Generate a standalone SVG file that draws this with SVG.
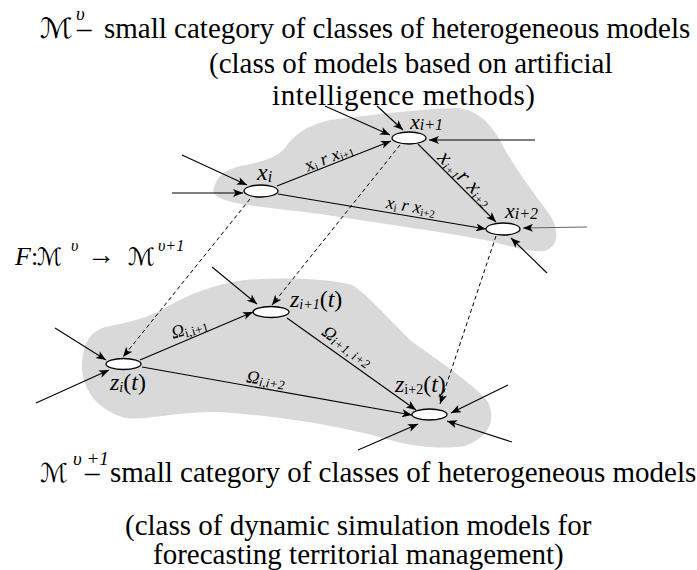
<svg xmlns="http://www.w3.org/2000/svg" width="697" height="570" viewBox="0 0 697 570">
<style>
text{font-family:"Liberation Serif","Times New Roman",serif;fill:#000}
.title{font-size:29px}
.it{font-style:italic}
.node{fill:#fff;stroke:#000;stroke-width:1.3}
.blob{fill:#d9d9d9;stroke:none}
.c{stroke:#000;stroke-width:1.1;fill:none;marker-end:url(#ah)}
.d{stroke:#000;stroke-width:1;fill:none;stroke-dasharray:4 3;marker-end:url(#ah)}
.scr{font-family:"DejaVu Serif","DejaVu Sans",serif}
</style>
<defs>
<marker id="ah" viewBox="0 0 10 8" refX="10" refY="4" markerWidth="11" markerHeight="8" markerUnits="userSpaceOnUse" orient="auto">
<path d="M0,0 L10,4 L0,8 L2.5,4 Z" fill="#000"/>
</marker>
</defs>

<g id="titles">
<text y="38" font-size="29"><tspan x="40" class="scr" font-size="28" textLength="33" lengthAdjust="spacingAndGlyphs">ℳ</tspan><tspan x="76" y="20" class="it" font-size="19">υ</tspan><tspan x="77" y="38">–</tspan><tspan x="104" y="38">small category of classes of heterogeneous models</tspan></text>
<text x="209" y="73" class="title">(class of models based on artificial</text>
<text x="272" y="105" class="title" textLength="263" lengthAdjust="spacing">intelligence methods)</text>

<text y="482" font-size="29"><tspan x="40" class="scr" font-size="26" textLength="28" lengthAdjust="spacingAndGlyphs">ℳ</tspan><tspan x="73" y="465" class="it" font-size="19">υ +1</tspan><tspan x="85" y="482">–</tspan><tspan x="110" y="482">small category of classes of heterogeneous models</tspan></text>
<text x="125" y="535" class="title">(class of dynamic simulation models for</text>
<text x="153" y="564" class="title">forecasting territorial management)</text>

<text y="265" font-size="26"><tspan x="15" class="it">F</tspan><tspan x="31">:</tspan><tspan x="37" class="scr" font-size="24" textLength="25" lengthAdjust="spacingAndGlyphs">ℳ</tspan><tspan x="71" y="251" class="it" font-size="16">υ</tspan><tspan x="87" y="264" font-size="28">→</tspan><tspan x="128" y="265" class="scr" font-size="24" textLength="27" lengthAdjust="spacingAndGlyphs">ℳ</tspan><tspan x="158" y="251" class="it" font-size="16">υ+1</tspan></text>
</g>

<path id="blob-top" class="blob" d="M214,188 C216,178 224,170 240,166 C262,162 276,158 285,148 C293,136 305,126 330,120 C370,115 420,109 455,108 C475,109 488,120 500,140 C512,165 535,195 550,215 C560,232 558,247 545,251 C530,253 510,246 490,241 C450,233 380,223 320,214 C270,208 240,205 225,200 C214,196 212,192 214,188 Z"/>
<path id="blob-bottom" class="blob" d="M82,370 C82,345 88,333 105,327 C130,322 150,318 170,305 C190,294 215,284 245,280 C290,277 330,279 352,285 C368,295 385,315 410,340 C440,362 475,385 488,402 C496,420 490,437 465,446 C440,450 410,446 390,440 C350,428 290,417 220,412 C170,412 145,421 125,418 C100,410 85,395 82,370 Z"/>

<g id="connectors">
<line class="c" x1="182" y1="155" x2="247" y2="185"/>
<line class="c" x1="172" y1="193" x2="243" y2="193"/>
<line class="c" x1="325" y1="106" x2="390" y2="135"/>
<line class="c" x1="377" y1="106" x2="403" y2="130"/>
<line class="c" x1="535" y1="140" x2="429" y2="140"/>
<line class="c" x1="587" y1="227" x2="523" y2="228" style="stroke:#666"/>
<line class="c" x1="547" y1="273" x2="511" y2="238"/>
<line class="c" x1="277" y1="186" x2="391" y2="141"/>
<line class="c" x1="278" y1="194" x2="486" y2="229"/>
<line class="c" x1="418" y1="144" x2="496" y2="222"/>
<line class="d" x1="250" y1="199" x2="123" y2="357"/>
<line class="d" x1="400" y1="145" x2="272" y2="305"/>
<line class="d" x1="496" y1="236" x2="440" y2="404"/>
<line class="c" x1="55" y1="328" x2="106" y2="360"/>
<line class="c" x1="36" y1="403" x2="109" y2="370"/>
<line class="c" x1="212" y1="267" x2="257" y2="304"/>
<line class="c" x1="508" y1="385" x2="451" y2="413"/>
<line class="c" x1="512" y1="442" x2="447" y2="421"/>
<line class="c" x1="358" y1="450" x2="418" y2="424"/>
<line class="c" x1="140" y1="360" x2="253" y2="312"/>
<line class="c" x1="142" y1="367" x2="412" y2="415"/>
<line class="c" x1="287" y1="318" x2="416" y2="410"/>

<text transform="translate(331,162.5) rotate(-21.5)" text-anchor="middle" font-size="18"><tspan>x</tspan><tspan font-size="11" dy="2">i</tspan><tspan dy="-2" class="it"> r </tspan><tspan class="it">x</tspan><tspan font-size="11" dy="2">i+1</tspan></text>
<text transform="translate(410,212) rotate(9.5)" text-anchor="middle" font-size="18"><tspan class="it">x</tspan><tspan font-size="11" dy="2">i</tspan><tspan dy="-2" class="it"> r </tspan><tspan class="it">x</tspan><tspan font-size="11" dy="2">i+2</tspan></text>
<text transform="translate(461,183) rotate(45)" text-anchor="middle" font-size="22" class="it"><tspan>x</tspan><tspan font-size="12" dy="3">i+1</tspan><tspan dy="-3">r </tspan><tspan>x</tspan><tspan font-size="12" dy="3">i+2</tspan></text>
<text transform="translate(191,334) rotate(-15)" text-anchor="middle" font-size="18"><tspan class="it">Ω</tspan><tspan font-size="13" dy="2">i,i+1</tspan></text>
<text transform="translate(265,385) rotate(8)" text-anchor="middle" font-size="18" class="it"><tspan>Ω</tspan><tspan font-size="13" dy="2">i,i+2</tspan></text>
<text transform="translate(344,351) rotate(35.5)" text-anchor="middle" font-size="18" class="it"><tspan>Ω</tspan><tspan font-size="13" dy="2">i+1, i+2</tspan></text>
</g>

<g id="node-xi">
<ellipse class="node" cx="261" cy="191" rx="17" ry="6"/>
<text x="257" y="180" class="it" font-size="24">x<tspan font-size="16" dy="2">i</tspan></text>
</g>
<g id="node-xi1">
<ellipse class="node" cx="409" cy="138" rx="17" ry="6"/>
<text x="410" y="129" class="it" font-size="22">x<tspan font-size="16" dy="1">i+1</tspan></text>
</g>
<g id="node-xi2">
<ellipse class="node" cx="503" cy="229" rx="17" ry="6"/>
<text x="505" y="218" class="it" font-size="22">x<tspan font-size="16" dy="1">i+2</tspan></text>
</g>
<g id="node-zi">
<ellipse class="node" cx="123.5" cy="364" rx="17.5" ry="5.5"/>
<text x="110" y="390" font-size="24"><tspan class="it">z</tspan><tspan class="it" font-size="14" dy="2">i</tspan><tspan dy="-2">(</tspan><tspan class="it">t</tspan><tspan>)</tspan></text>
</g>
<g id="node-zi1">
<ellipse class="node" cx="271" cy="312" rx="18" ry="5.5"/>
<text x="290" y="307" font-size="24"><tspan class="it">z</tspan><tspan class="it" font-size="14" dy="2">i+1</tspan><tspan dy="-2">(</tspan><tspan class="it">t</tspan><tspan>)</tspan></text>
</g>
<g id="node-zi2">
<ellipse class="node" cx="429.5" cy="414.5" rx="17.5" ry="5.5"/>
<text x="395" y="392" font-size="24"><tspan class="it">z</tspan><tspan font-size="14" dy="2">i+2</tspan><tspan dy="-2">(</tspan><tspan class="it">t</tspan><tspan>)</tspan></text>
</g>
</svg>
